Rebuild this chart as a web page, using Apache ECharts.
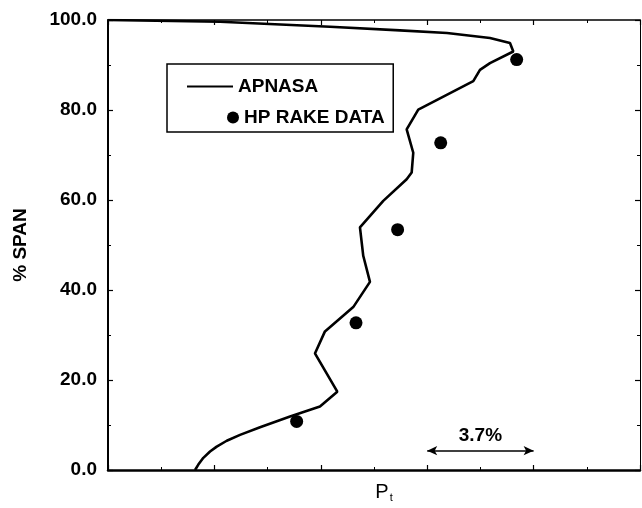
<!DOCTYPE html>
<html><head><meta charset="utf-8">
<script src="https://cdn.jsdelivr.net/npm/echarts@6/dist/echarts.min.js"></script>
<style>html,body{margin:0;padding:0;background:#fff}#c{width:642px;height:508px}</style>
</head><body><div id="c"></div>
<script>
// APNASA computed profile (x in units of one major tick = 3.7% Pt)
const apnasaX = [0.818, 0.849, 0.896, 0.959, 1.022, 1.116, 1.241, 1.429, 1.711, 1.992, 2.155, 1.945, 2.039, 2.305, 2.462, 2.399, 2.368, 2.587, 2.807, 2.854, 2.869, 2.807, 2.916, 3.433, 3.496, 3.590, 3.809, 3.778, 3.590, 3.186, 2.744, 2.086, 1.053, 0.0];
const apnasaY = [0.0, 1.2, 2.7, 4.1, 5.2, 6.5, 7.8, 9.5, 11.9, 14.1, 17.4, 25.9, 30.8, 36.2, 41.8, 47.6, 53.9, 59.8, 64.6, 66.1, 70.5, 75.7, 80.1, 86.4, 88.9, 90.4, 93.0, 94.9, 96.0, 97.1, 97.7, 98.5, 99.6, 100.0];
// HP rake data
const rakeX = [1.773, 2.331, 2.722, 3.127, 3.841];
const rakeY = [10.8, 32.7, 53.4, 72.7, 91.2];
// axis settings
const yTickLabels = ['0.0', '20.0', '40.0', '60.0', '80.0', '100.0'];
const seriesNames = ['APNASA', 'HP RAKE DATA'];
// scale bar annotation
const scaleBarX = [3, 4];
const scaleBarY = 4.3;
const scaleBarLabel = '3.7%';

const FONT = 'Arial, "Liberation Sans", Helvetica, sans-serif';
const chart = echarts.init(document.getElementById('c'), null, {renderer: 'canvas'});

const axisCommon = {
  splitLine: {show: false},
  axisLine: {show: true, onZero: false, lineStyle: {color: '#000', width: 2}},
  axisTick: {show: true, inside: true, length: 5, lineStyle: {color: '#000', width: 1.2}},
  minorTick: {show: true, splitNumber: 2, length: 3, lineStyle: {color: '#000', width: 1}},
};
const txt = {fontSize: 19, fontWeight: 'bold', color: '#000', fontFamily: FONT};

chart.setOption({
  animation: false,
  backgroundColor: '#fff',
  grid: {left: 108, right: 2, top: 20, bottom: 36, containLabel: false},
  legend: [
    {
      data: [{name: seriesNames[0], icon: 'rect'}], orient: 'vertical', left: 167, top: 64,
      itemWidth: 46, itemHeight: 2, padding: [13, 75, 36, 20],
      borderColor: '#000', borderWidth: 1.5, borderRadius: 0,
      textStyle: txt
    },
    {
      data: [seriesNames[1]], orient: 'vertical', left: 227, top: 108,
      itemWidth: 12, itemHeight: 12, padding: 0,
      textStyle: txt
    }
  ],
  xAxis: [
    Object.assign({}, axisCommon, {
      type: 'value', position: 'bottom', min: 0, max: 5, interval: 1,
      axisLabel: {show: false},
      axisLine: {show: true, onZero: false, lineStyle: {color: '#000', width: 2.5}},
      name: '{p|P}{s|t}', nameLocation: 'middle', nameGap: 11,
      nameTextStyle: {
        padding: [0, 0, 0, 20],
        rich: {
          p: {fontSize: 20, fontFamily: FONT, color: '#000', lineHeight: 22},
          s: {fontSize: 11, fontFamily: FONT, color: '#000', verticalAlign: 'bottom', lineHeight: 12, padding: [14, 0, 0, 1]}
        }
      }
    }),
    Object.assign({}, axisCommon, {
      type: 'value', position: 'top', min: 0, max: 5, interval: 1,
      axisLabel: {show: false},
      axisLine: {show: true, onZero: false, lineStyle: {color: '#000', width: 1.5}}
    })
  ],
  yAxis: [
    Object.assign({}, axisCommon, {
      type: 'value', position: 'left', min: 0, max: 100, interval: 20,
      axisLabel: Object.assign({show: true, margin: 11,
        formatter: function (v) { return yTickLabels[Math.round(v / 20)]; }}, txt),
      name: '% SPAN', nameLocation: 'middle', nameGap: 78, nameRotate: 90,
      nameTextStyle: txt
    }),
    Object.assign({}, axisCommon, {
      type: 'value', position: 'right', min: 0, max: 100, interval: 20,
      axisLabel: {show: false},
      axisLine: {show: true, onZero: false, lineStyle: {color: '#000', width: 1}}
    })
  ],
  series: [
    {
      name: seriesNames[0], type: 'line', xAxisIndex: 0, yAxisIndex: 0,
      data: apnasaX.map((x, i) => [x, apnasaY[i]]),
      symbol: 'none', smooth: false,
      lineStyle: {color: '#000', width: 2.6},
      itemStyle: {color: '#000'}
    },
    {
      name: seriesNames[1], type: 'scatter', xAxisIndex: 0, yAxisIndex: 0,
      data: rakeX.map((x, i) => [x, rakeY[i]]),
      symbol: 'circle', symbolSize: 13,
      itemStyle: {color: '#000', opacity: 1},
      markLine: {
        silent: true, animation: false,
        symbol: ['arrow', 'arrow'], symbolSize: [7, 10],
        lineStyle: {color: '#000', width: 1.5, type: 'solid'},
        label: Object.assign({show: true, position: 'middle', formatter: scaleBarLabel, distance: 5}, txt),
        data: [[{coord: [scaleBarX[0], scaleBarY]}, {coord: [scaleBarX[1], scaleBarY]}]]
      }
    }
  ]
});
</script></body></html>
